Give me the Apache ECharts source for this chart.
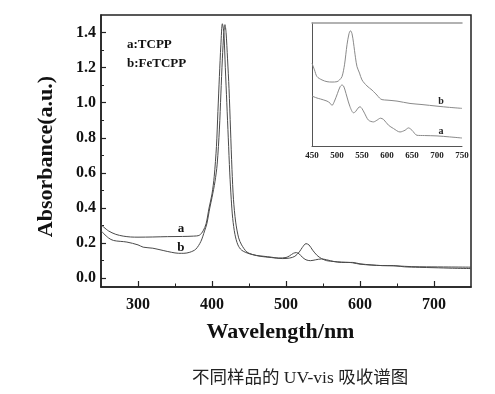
<!DOCTYPE html>
<html><head><meta charset="utf-8">
<script src="https://cdn.jsdelivr.net/npm/echarts@6/dist/echarts.min.js"></script>
<style>html,body{margin:0;padding:0;background:#fff}#c{width:495px;height:394px}</style>
</head><body><div id="c"></div>
<script>
// Main spectrum: curve a (TCPP)
const wlA = [250,260,270,280,290,300,320,340,360,375,383,388,392,396,400,403,406,408,410,412,414,416,418,420,422,424,426,428,431,435,440,450,460,470,480,490,500,505,510,514,518,522,527,533,540,548,555,565,575,585,590,600,615,630,645,650,660,680,700,725,750];
const absA = [0.305,0.27,0.25,0.24,0.235,0.234,0.235,0.237,0.238,0.24,0.245,0.27,0.31,0.4,0.48,0.58,0.75,0.95,1.15,1.33,1.45,1.4,1.2,1.0,0.8,0.6,0.45,0.34,0.25,0.19,0.16,0.14,0.13,0.125,0.12,0.115,0.118,0.128,0.142,0.146,0.138,0.12,0.105,0.1,0.105,0.11,0.105,0.095,0.09,0.09,0.09,0.082,0.076,0.072,0.072,0.07,0.065,0.062,0.06,0.057,0.055];
// Main spectrum: curve b (FeTCPP)
const wlB = [250,260,267,285,300,307,320,334,345,355,362,370,378,385,390,393,397,400,404,407,410,412,414,416,417.5,419,421,423,425,427,429,432,436,440,447,455,465,480,495,505,512,518,522,527,531,536,542,548,555,565,575,585,590,600,615,630,650,670,690,720,750];
const absB = [0.27,0.23,0.215,0.206,0.19,0.177,0.171,0.158,0.148,0.142,0.142,0.148,0.165,0.21,0.27,0.31,0.4,0.46,0.55,0.65,0.85,1.05,1.25,1.4,1.445,1.4,1.25,1.08,0.85,0.62,0.45,0.32,0.23,0.19,0.15,0.135,0.125,0.118,0.112,0.115,0.125,0.15,0.175,0.197,0.19,0.16,0.13,0.112,0.1,0.095,0.092,0.09,0.088,0.08,0.075,0.072,0.07,0.066,0.065,0.064,0.063];
// Inset (relative units)
const insWlA = [450,460,467,480,486,490,495,501,506,510,513,516,520,526,533,537,542,546,550,555,563,573,580,587,593,603,613,626,636,643,650,660,675,700,725,750];
const insA = [0.406,0.39,0.382,0.365,0.349,0.33,0.365,0.428,0.48,0.496,0.488,0.455,0.398,0.319,0.27,0.279,0.308,0.319,0.304,0.267,0.21,0.196,0.21,0.226,0.216,0.169,0.142,0.114,0.128,0.147,0.128,0.087,0.085,0.082,0.074,0.065];
const insWlB = [450,455,460,470,480,490,500,505,510,515,520,524,527,530,533,537,540,545,550,560,570,576,580,585,590,600,620,646,670,700,725,750];
const insB = [0.673,0.618,0.564,0.537,0.523,0.52,0.523,0.537,0.564,0.66,0.823,0.913,0.937,0.913,0.839,0.717,0.645,0.593,0.537,0.488,0.455,0.43,0.414,0.39,0.377,0.373,0.365,0.346,0.337,0.324,0.314,0.306];
// Tick values
const xMajor = [300,400,500,600,700];
const xMinor = [350,450,550,650];
const yMajor = [0,0.2,0.4,0.6,0.8,1.0,1.2,1.4];
const yMinor = [0.1,0.3,0.5,0.7,0.9,1.1,1.3];
const insTicks = [450,500,550,600,650,700,750];
const legendLines = ['a:TCPP','b:FeTCPP'];
const caption = '不同样品的 UV-vis 吸收谱图';

const zip = (xs, ys) => xs.map((x, i) => [x, ys[i]]);
const serif = "'Liberation Serif','Times New Roman',serif";

const chart = echarts.init(document.getElementById('c'), null, {renderer: 'canvas'});
chart.setOption({
  animation: false,
  backgroundColor: '#fff',
  grid: [
    {left: 101, top: 15, width: 370, height: 272, show: true, borderColor: '#222', borderWidth: 1.5, backgroundColor: 'transparent'},
    {left: 312, top: 23, width: 150, height: 123, show: false}
  ],
  xAxis: [
    {gridIndex: 0, type: 'value', min: 250, max: 750, position: 'bottom',
     axisLine: {show: true, onZero: false, lineStyle: {color: '#222', width: 1.5}},
     axisTick: {show: true, inside: true, length: 6, customValues: xMajor, lineStyle: {color: '#222', width: 1.2}},
     axisLabel: {customValues: xMajor, margin: 10, color: '#111', fontFamily: serif, fontWeight: 'bold', fontSize: 16},
     splitLine: {show: false},
     name: 'Wavelength/nm', nameLocation: 'middle', nameGap: 34,
     nameTextStyle: {fontFamily: serif, fontWeight: 'bold', fontSize: 22, color: '#111', padding: [0, 11, 0, 0]}},
    {gridIndex: 0, type: 'value', min: 250, max: 750, position: 'bottom',
     axisLine: {show: false, onZero: false}, axisLabel: {show: false}, splitLine: {show: false},
     axisTick: {show: true, inside: true, length: 3.5, customValues: xMinor, lineStyle: {color: '#222', width: 1}}},
    {gridIndex: 1, type: 'value', min: 450, max: 750, position: 'bottom',
     axisLine: {show: true, onZero: false, lineStyle: {color: '#555', width: 1}},
     axisTick: {show: false},
     axisLabel: {customValues: insTicks, margin: 5, color: '#222', fontFamily: serif, fontWeight: 'bold', fontSize: 9},
     splitLine: {show: false}},
    {gridIndex: 1, type: 'value', min: 450, max: 750, position: 'top',
     axisLine: {show: true, onZero: false, lineStyle: {color: '#999', width: 1.5}},
     axisTick: {show: false}, axisLabel: {show: false}, splitLine: {show: false}}
  ],
  yAxis: [
    {gridIndex: 0, type: 'value', min: -0.05, max: 1.5, position: 'left',
     axisLine: {show: true, onZero: false, lineStyle: {color: '#222', width: 1.5}},
     axisTick: {show: true, inside: true, length: 5, customValues: yMajor, lineStyle: {color: '#222', width: 1.2}},
     axisLabel: {customValues: yMajor, margin: 5, color: '#111', fontFamily: serif, fontWeight: 'bold', fontSize: 16,
                 formatter: v => v.toFixed(1)},
     splitLine: {show: false},
     name: 'Absorbance(a.u.)', nameLocation: 'middle', nameGap: 44,
     nameTextStyle: {fontFamily: serif, fontWeight: 'bold', fontSize: 22, color: '#111', padding: [0, 11, 0, 0]}},
    {gridIndex: 0, type: 'value', min: -0.05, max: 1.5, position: 'left',
     axisLine: {show: false, onZero: false}, axisLabel: {show: false}, splitLine: {show: false},
     axisTick: {show: true, inside: true, length: 3, customValues: yMinor, lineStyle: {color: '#222', width: 1}}},
    {gridIndex: 1, type: 'value', min: 0, max: 1, position: 'left',
     axisLine: {show: true, onZero: false, lineStyle: {color: '#555', width: 1}},
     axisTick: {show: false}, axisLabel: {show: false}, splitLine: {show: false}}
  ],
  series: [
    {type: 'line', name: 'a', xAxisIndex: 0, yAxisIndex: 0, data: zip(wlA, absA), showSymbol: false, smooth: 0.3,
     lineStyle: {color: '#4a4a4a', width: 1},
     markPoint: {symbol: 'circle', symbolSize: 0, silent: true,
       label: {show: true, formatter: 'a', color: '#111', fontFamily: serif, fontWeight: 'bold', fontSize: 13},
       data: [{coord: [358, 0.284]}]}},
    {type: 'line', name: 'b', xAxisIndex: 0, yAxisIndex: 0, data: zip(wlB, absB), showSymbol: false, smooth: 0.3,
     lineStyle: {color: '#4a4a4a', width: 1},
     markPoint: {symbol: 'circle', symbolSize: 0, silent: true,
       label: {show: true, formatter: 'b', color: '#111', fontFamily: serif, fontWeight: 'bold', fontSize: 13},
       data: [{coord: [358, 0.173]}]}},
    {type: 'line', name: 'inset a', xAxisIndex: 2, yAxisIndex: 2, data: zip(insWlA, insA), showSymbol: false, smooth: 0.3,
     lineStyle: {color: '#8a8a8a', width: 1},
     markPoint: {symbol: 'circle', symbolSize: 0, silent: true,
       label: {show: true, formatter: 'a', color: '#222', fontFamily: serif, fontWeight: 'bold', fontSize: 10},
       data: [{coord: [708, 0.12]}]}},
    {type: 'line', name: 'inset b', xAxisIndex: 2, yAxisIndex: 2, data: zip(insWlB, insB), showSymbol: false, smooth: 0.3,
     lineStyle: {color: '#8a8a8a', width: 1},
     markPoint: {symbol: 'circle', symbolSize: 0, silent: true,
       label: {show: true, formatter: 'b', color: '#222', fontFamily: serif, fontWeight: 'bold', fontSize: 10},
       data: [{coord: [708, 0.36]}]}}
  ],
  graphic: [
    {type: 'text', left: 127, top: 35, style: {text: legendLines.join('\n'), lineHeight: 19, fill: '#111',
      font: "bold 13px 'Liberation Serif', serif"}},
    {type: 'text', left: 192, top: 370, style: {text: caption, fill: '#222',
      font: "17.5px 'Liberation Serif','Noto Sans CJK SC', serif"}}
  ]
});
</script></body></html>
